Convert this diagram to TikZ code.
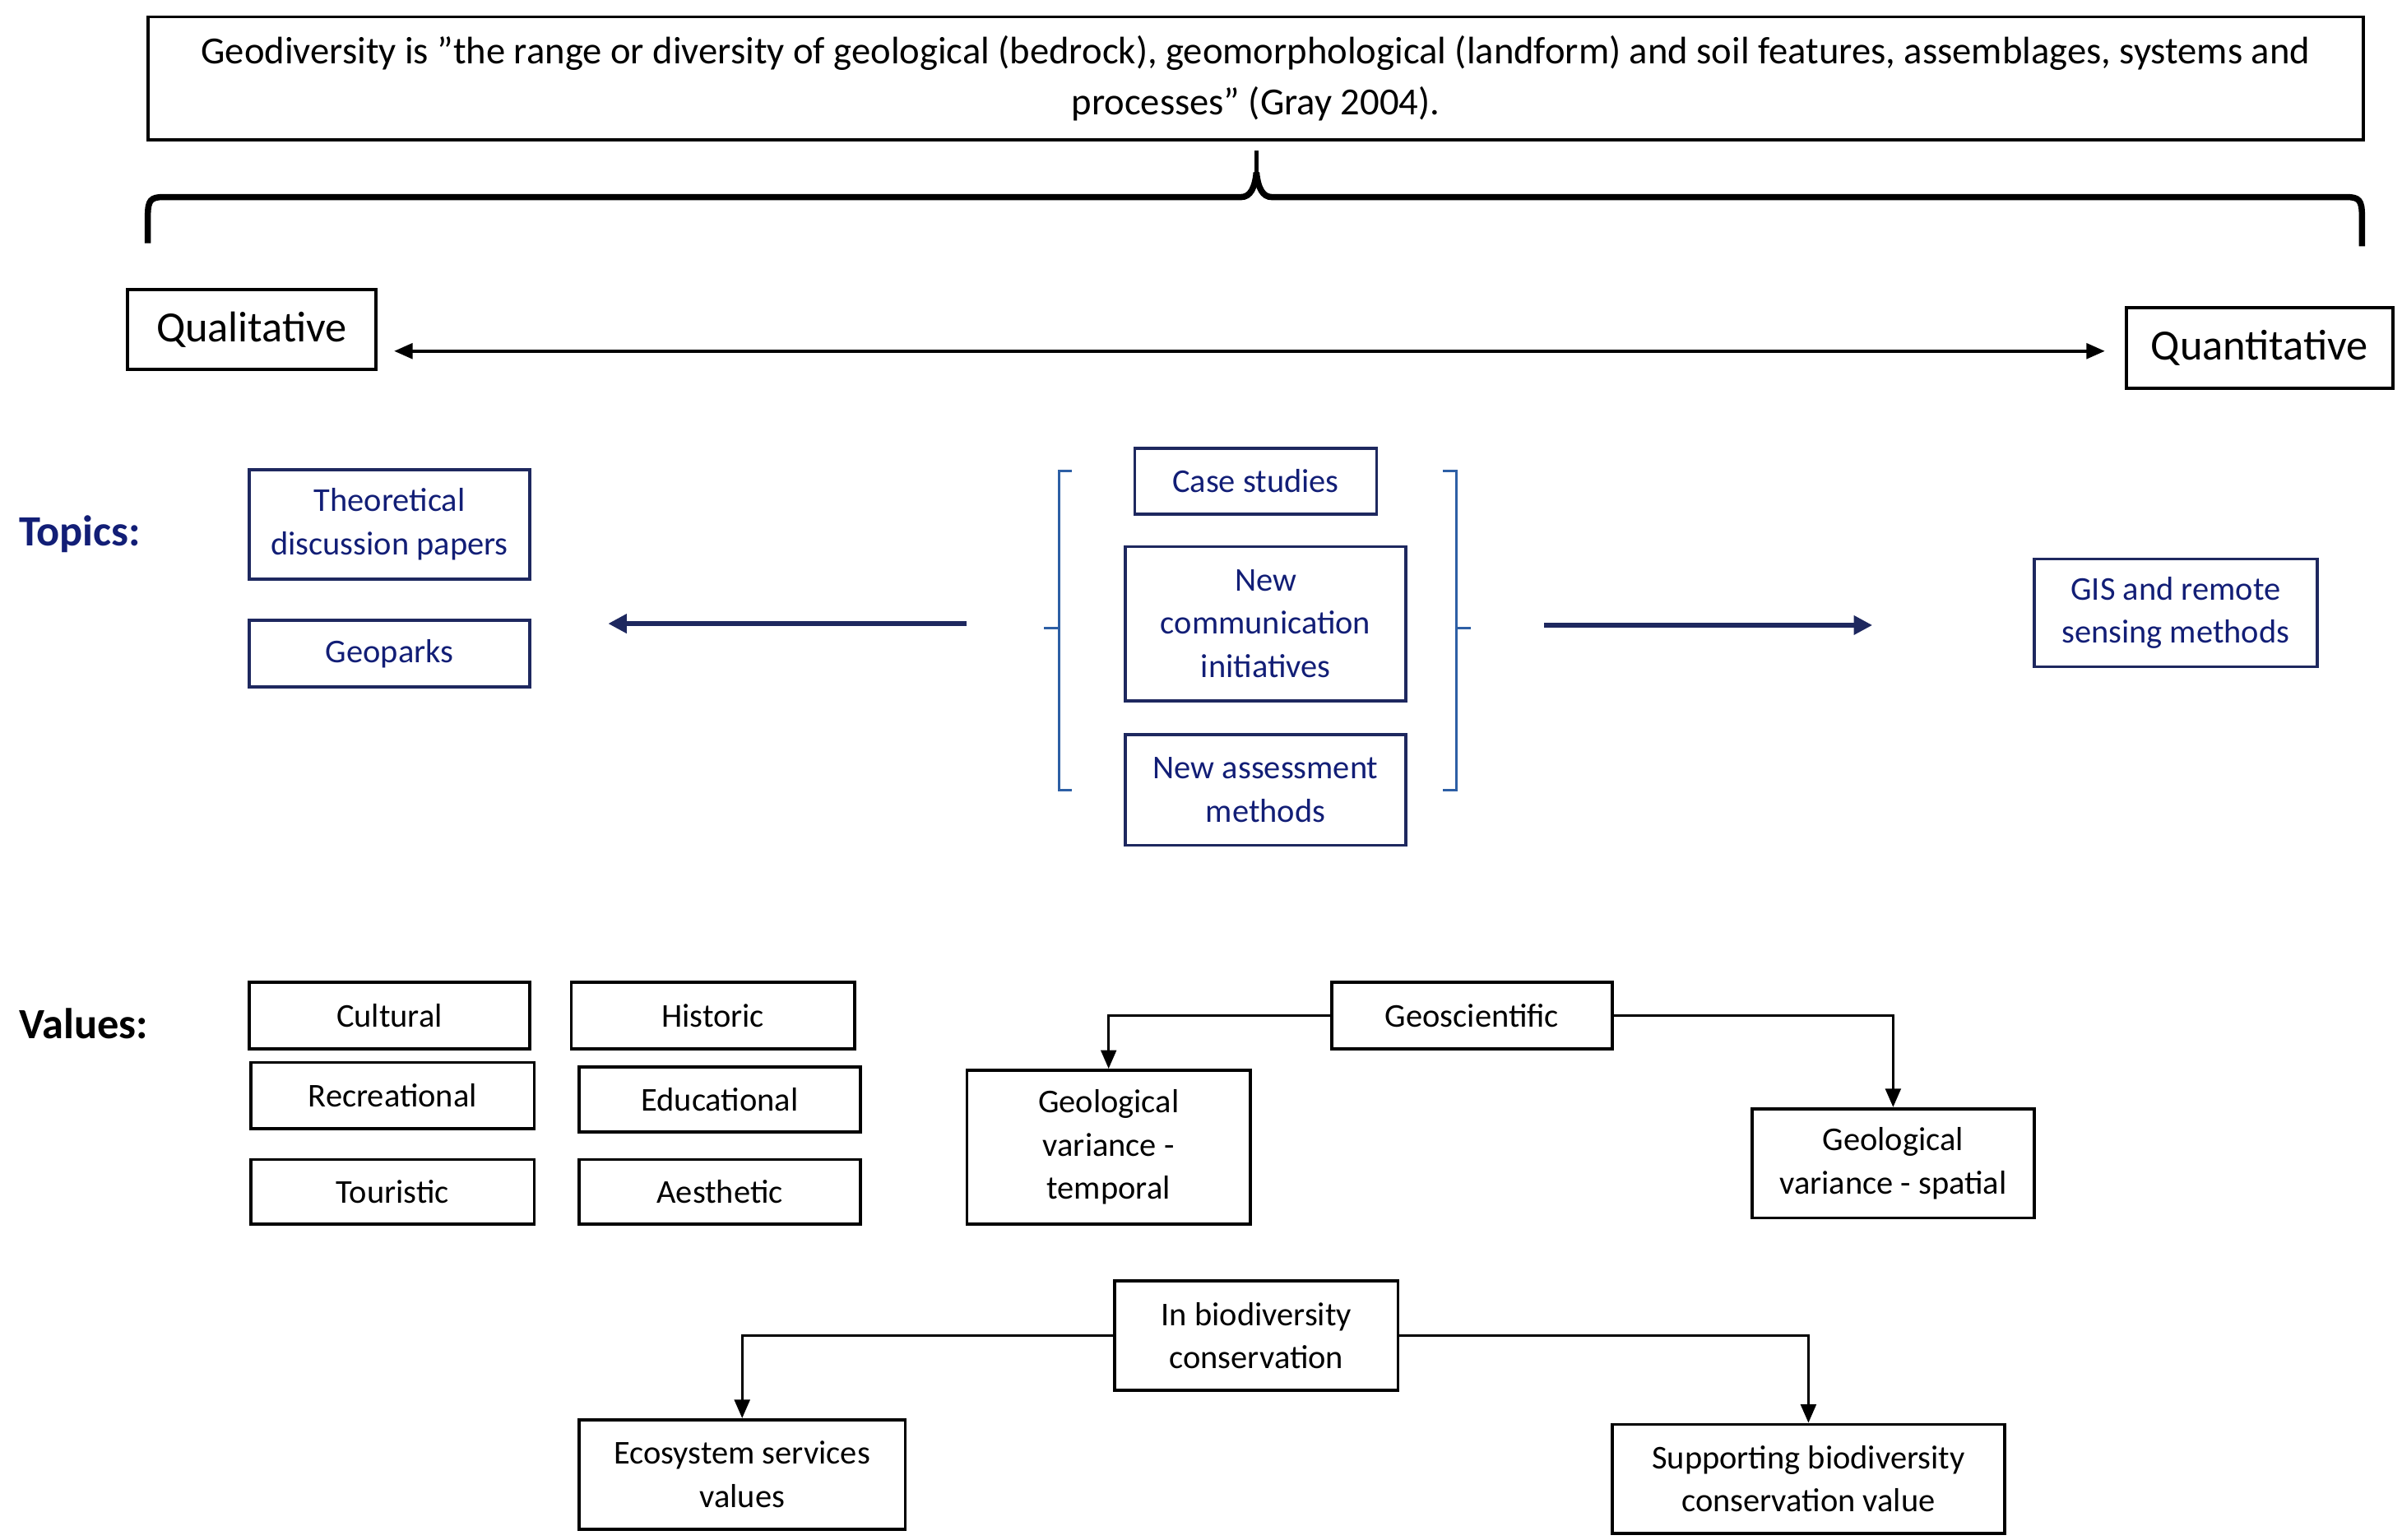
\documentclass[tikz,border=0pt]{standalone}
\usepackage{fontspec}
\setmainfont{Carlito}
\usetikzlibrary{arrows.meta}
\definecolor{navy}{RGB}{18,30,118}
\definecolor{navyline}{RGB}{30,40,95}
\definecolor{brkblue}{RGB}{45,95,165}
\tikzset{
  bbox/.style={draw=black, line width=1pt, align=center, inner sep=0pt, font=\fontsize{10.8}{14}\selectfont},
  nbox/.style={bbox, draw=navyline, text=navy},
  conn/.style={line width=0.8pt, -{Triangle[length=6pt,width=5pt]}},
  tconn/.style={line width=1.4pt, navyline, -{Triangle[length=6pt,width=6pt]}},
  brk/.style={line width=0.9pt, brkblue},
  hdr/.style={font=\fontsize{14}{16}\selectfont\bfseries, anchor=west, inner sep=0pt},
}
\begin{document}
\begin{tikzpicture}[x=0.5pt,y=-0.5pt]
\useasboundingbox (0,0) rectangle (1560,1000);

% definition box
\node[bbox, minimum width=719.5pt, minimum height=40pt,
      font=\fontsize{12.45}{16.5}\selectfont] (def) at (815.5,51)
  {Geodiversity is ”the range or diversity of geological (bedrock), geomorphological (landform) and soil features, assemblages, systems and\\ processes” (Gray 2004).};

% brace
\draw[line width=2pt] (96,158) -- (96,140) .. controls (96,130) and (98,128) .. (106,128) -- (806,128)
   .. controls (812,128) and (815,122) .. (816,112);
\draw[line width=2pt] (816,112) .. controls (817,122) and (820,128) .. (826,128) -- (1524,128)
   .. controls (1532,128) and (1534,130) .. (1534,140) -- (1534,160);
\draw[line width=1.2pt] (816,114) -- (816,98);

% qualitative / quantitative
\node[bbox, font=\fontsize{14}{16}\selectfont, minimum width=80.5pt, minimum height=26pt] (qual) at (163.5,214) {Qualitative};
\node[bbox, font=\fontsize{14}{16}\selectfont, minimum width=86.5pt, minimum height=26pt] (quant) at (1467.5,226) {Quantitative};
\coordinate (qa) at (256,228);
\coordinate (qb) at (1367,228);
\draw[line width=1pt, {Triangle[length=6pt,width=5pt]}-{Triangle[length=6pt,width=5pt]}] (qa) -- (qb);

% Topics
\node[hdr, text=navy] (topics) at (12,347) {Topics:};
\node[nbox, minimum width=91pt, minimum height=35.5pt] (theo) at (253,340.5) {Theoretical\\discussion papers};
\node[nbox, minimum width=91pt, minimum height=21.5pt] (geop) at (253,424.5) {Geoparks};
\node[nbox, minimum width=78.5pt, minimum height=21.5pt] (case) at (815.5,312.5) {Case studies};
\node[nbox, minimum width=91pt, minimum height=50pt] (comm) at (822,405) {New\\communication\\initiatives};
\node[nbox, minimum width=91pt, minimum height=36pt] (assess) at (822,513) {New assessment\\methods};
\node[nbox, minimum width=92pt, minimum height=35pt] (gis) at (1413,398) {GIS and remote\\sensing methods};

% brackets
\draw[brk] (696,306) -- (688,306) -- (688,513) -- (696,513);
\draw[brk] (688,408) -- (678,408);
\draw[brk] (937,306) -- (946,306) -- (946,513) -- (937,513);
\draw[brk] (946,408) -- (955,408);

\coordinate (la) at (628,405);
\coordinate (lb) at (395,405);
\coordinate (ra) at (1003,406);
\coordinate (rb) at (1216,406);
\draw[tconn] (la) -- (lb);
\draw[tconn] (ra) -- (rb);

% Values
\node[hdr] (values) at (12,665) {Values:};
\node[bbox, minimum width=91pt, minimum height=21.5pt] (cult) at (253,659.5) {Cultural};
\node[bbox, minimum width=92pt, minimum height=21.5pt] (hist) at (463,659.5) {Historic};
\node[bbox, minimum width=92pt, minimum height=21.5pt] (recr) at (255,711.5) {Recreational};
\node[bbox, minimum width=91.5pt, minimum height=21pt] (educ) at (467.5,714) {Educational};
\node[bbox, minimum width=92pt, minimum height=21pt] (tour) at (255,774) {Touristic};
\node[bbox, minimum width=91.5pt, minimum height=21pt] (aest) at (467.5,774) {Aesthetic};

\node[bbox, minimum width=91pt, minimum height=21.5pt] (geos) at (956,659.5) {Geoscientific};
\node[bbox, minimum width=92pt, minimum height=50pt] (gvt) at (720,745) {Geological\\variance -\\temporal};
\node[bbox, minimum width=91.5pt, minimum height=35.5pt] (gvs) at (1229.5,755.5) {Geological\\variance - spatial};
\draw[conn] (geos.west) -| (gvt.north);
\draw[conn] (geos.east) -| (gvs.north);

\node[bbox, minimum width=92pt, minimum height=35.5pt] (inbio) at (816,867.5) {In biodiversity\\conservation};
\node[bbox, minimum width=106pt, minimum height=35.5pt] (eco) at (482,957.5) {Ecosystem services\\values};
\node[bbox, minimum width=127.5pt, minimum height=35.5pt] (supp) at (1174.5,960.5) {Supporting biodiversity\\conservation value};
\draw[conn] (inbio.west) -| (eco.north);
\draw[conn] (inbio.east) -| (supp.north);
\end{tikzpicture}
\end{document}
